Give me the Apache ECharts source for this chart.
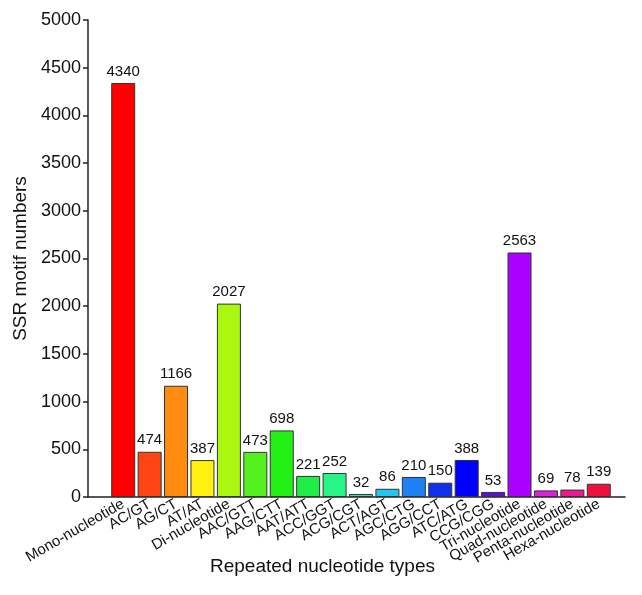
<!DOCTYPE html>
<html><head><meta charset="utf-8">
<script src="https://cdn.jsdelivr.net/npm/echarts@6/dist/echarts.min.js"></script>
<style>html,body{margin:0;padding:0;background:#fff}#c{width:642px;height:595px}</style>
</head><body><div id="c"></div>
<script>
const categories = ["Mono-nucleotide","AC/GT","AG/CT","AT/AT","Di-nucleotide","AAC/GTT","AAG/CTT","AAT/ATT","ACC/GGT","ACG/CGT","ACT/AGT","AGC/CTG","AGG/CCT","ATC/ATG","CCG/CGG","Tri-nucleotide","Quad-nucleotide","Penta-nucleotide","Hexa-nucleotide"];
const values = [4340,474,1166,387,2027,473,698,221,252,32,86,210,150,388,53,2563,69,78,139];
const colors = ["#ff0000","#ff4515","#ff8c10","#fff010","#aaf810","#55f020","#22f015","#20ee45","#28f585","#40d8a8","#22c8f0","#1e80f5","#1030ee","#0000ff","#5a10e0","#aa00ff","#e020e0","#ee1890","#f01040"];
const yTicks = [0,500,1000,1500,2000,2500,3000,3500,4000,4500,5000];

const chart = echarts.init(document.getElementById('c'), null, {renderer:'canvas'});
const font = 'Liberation Sans, Arial, sans-serif';
chart.setOption({
  animation:false,
  grid:[
    {left:88, right:17, top:20, bottom:98, containLabel:false},
    {left:110, right:30, top:20, bottom:98, containLabel:false}
  ],
  xAxis:[{
    gridIndex:0, type:'value', min:0, max:1,
    splitLine:{show:false},
    axisLine:{show:true, onZero:false, lineStyle:{color:'#222', width:1.5}},
    axisTick:{show:false},
    axisLabel:{show:false},
    name:'Repeated nucleotide types', nameLocation:'middle', nameGap:60, nameMoveOverlap:false,
    nameTextStyle:{fontSize:19, color:'#111', fontFamily:font, padding:[0,68,0,0]}
  },{
    gridIndex:1, type:'category', data:categories, boundaryGap:true,
    axisLine:{show:false}, axisTick:{show:false},
    axisLabel:{interval:0, rotate:30, fontSize:15, color:'#111', fontFamily:font, margin:6}
  }],
  yAxis:[{
    gridIndex:0, type:'value', min:0, max:5000, interval:500,
    splitLine:{show:false},
    axisLine:{show:true, onZero:false, lineStyle:{color:'#222', width:1.5}},
    axisTick:{show:true, length:5, lineStyle:{color:'#222', width:1.5}},
    axisLabel:{fontSize:18, color:'#111', fontFamily:font, margin:7,
      customValues: yTicks, formatter:(v)=>String(v)},
    name:'SSR motif numbers', nameLocation:'middle', nameGap:51, nameRotate:90,
    nameTextStyle:{fontSize:19, color:'#111', fontFamily:font}
  },{
    gridIndex:1, type:'value', min:0, max:5000, interval:500, show:false
  }],
  series:[{
    type:'bar', xAxisIndex:1, yAxisIndex:1,
    barWidth:24,
    data: values.map((v,i)=>({value:v, itemStyle:{color:colors[i]}})),
    itemStyle:{borderColor:'#333', borderWidth:1},
    label:{show:true, position:'top', distance:4, fontSize:15, color:'#111', fontFamily:font}
  }]
});
</script></body></html>
